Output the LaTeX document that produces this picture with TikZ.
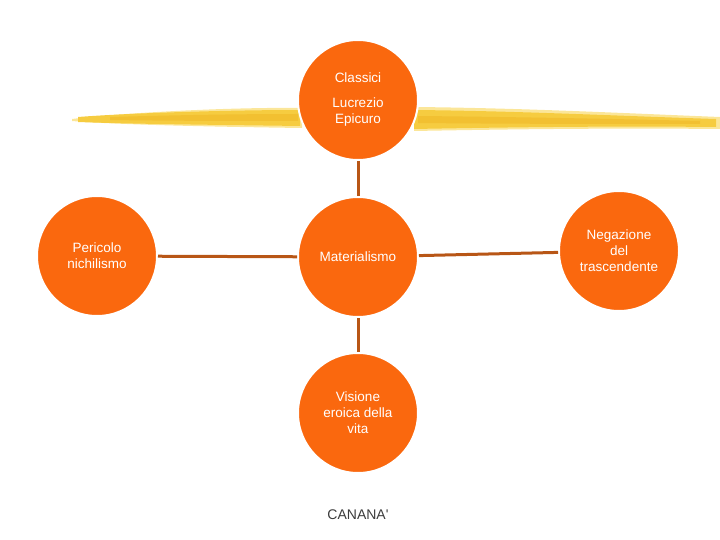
\documentclass[tikz,border=0pt]{standalone}
\usepackage{fontspec}
\setmainfont{Liberation Sans}
\definecolor{nodeor}{RGB}{250,104,14}
\definecolor{linkbr}{RGB}{184,86,22}
\definecolor{brushA}{RGB}{246,204,64}
\definecolor{brushB}{RGB}{240,184,40}
\definecolor{brushC}{RGB}{250,220,110}
\definecolor{capt}{RGB}{60,60,60}
\begin{document}
\begin{tikzpicture}[x=1pt,y=-1pt,
  bubble/.style={circle,fill=nodeor,draw=white,line width=2pt,minimum size=120pt,inner sep=0pt,align=center,text=white,font=\fontsize{13.5}{16}\selectfont},
  link/.style={draw=linkbr,line width=3pt},
  brush/.style={fill=brushA,draw=none}]
\useasboundingbox (0,0) rectangle (720,540);
% brush strokes
\fill[brushC,opacity=0.7] (72,119) .. controls (120,113) and (230,107) .. (302,108) -- (302,128) .. controls (230,127) and (120,125) .. (72,121) -- cycle;
\fill[brushA] (78,117) .. controls (130,113) and (230,110) .. (300,110) -- (300,126) .. controls (230,125) and (130,124) .. (78,122) -- cycle;
\fill[brushB,opacity=0.6] (110,117) .. controls (180,115) and (240,114) .. (298,114) -- (298,121) .. controls (240,121) and (180,121) .. (110,120) -- cycle;
\fill[brushC,opacity=0.7] (414,107) .. controls (520,108) and (620,113) .. (720,117) -- (720,129) .. controls (620,128) and (520,129) .. (414,131) -- cycle;
\fill[brushA] (414,110) .. controls (520,111) and (620,116) .. (716,119) -- (716,127) .. controls (620,126) and (520,127) .. (414,129) -- cycle;
\fill[brushB,opacity=0.6] (418,116) .. controls (520,117) and (620,119) .. (700,121) -- (700,124) .. controls (620,124) and (520,124) .. (418,123) -- cycle;
% nodes
\node[bubble] (top) at (358,100) {Classici\\[9pt]Lucrezio\\Epicuro};
\node[bubble] (mid) at (358,257) {Materialismo};
\node[bubble] (left) at (97,256) {Pericolo\\nichilismo};
\node[bubble] (right) at (619,251) {Negazione\\del\\trascendente};
\node[bubble] (bot) at (358,413) {Visione\\eroica della\\vita};
\node[text=capt,font=\fontsize{14}{16}\selectfont] (cap) at (358,515) {CANANA\textquotesingle};
% connectors
\draw[link] (top) -- (mid);
\draw[link] (mid) -- (bot);
\draw[link] (left) -- (mid);
\draw[link] (mid) -- (right);
\end{tikzpicture}
\end{document}
